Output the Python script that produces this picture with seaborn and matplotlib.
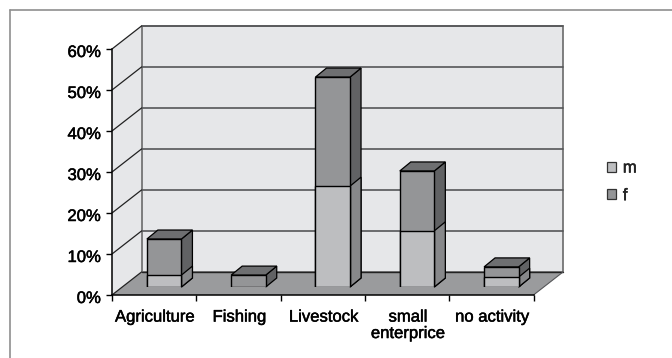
import matplotlib
matplotlib.use("Agg")
import matplotlib.pyplot as plt
import matplotlib.patheffects as pe
from matplotlib.lines import Line2D
from matplotlib.patches import Polygon, Patch
from matplotlib.transforms import ScaledTranslation
import pandas as pd
import seaborn as sns

categories = ["Agriculture", "Fishing", "Livestock", "small\nenterprice", "no activity"]
male = [2.9, 0.0, 24.6, 13.7, 2.4]
female = [8.8, 2.9, 26.6, 14.6, 2.5]
y_ticks = [0, 10, 20, 30, 40, 50, 60]

WIDTH, HEIGHT = 672, 358
LIGHT, MID = "#bdbec0", "#949597"
LIGHT_SIDE, MID_SIDE = "#87888a", "#616264"
MID_TOP = "#6e6f71"
FONT_SIZE = 12.0
# A hairline outline gives the regular face a medium weight
MEDIUM = [pe.withStroke(linewidth=0.35, foreground="black")]

sns.set_theme(style="white")
plt.rcParams["font.family"] = ["Liberation Sans", "DejaVu Sans"]

fig = plt.figure(figsize=(WIDTH / 100, HEIGHT / 100), dpi=100, facecolor="white")


def px_axes(left, bottom_y, right, top_y):
    """Axes placed by pixel edges, with y measured from the top of the figure."""
    return fig.add_axes([left / WIDTH, 1 - bottom_y / HEIGHT,
                         (right - left) / WIDTH, (bottom_y - top_y) / HEIGHT])


# Outer frame, open on the right and bottom edges
for xs, ys in [((9.5, 9.5), (358, 9.5)), ((9.5, 672), (9.5, 9.5))]:
    fig.add_artist(Line2D([x / WIDTH for x in xs], [1 - y / HEIGHT for y in ys],
                          color="#8f8f8f", lw=1.2))

# Front plane of the chart: category axis along the floor edge, percentages upward
front = px_axes(112, 295, 533.5, 49)
front.set_xlim(-0.5, 4.5)
front.set_ylim(0, 60)
front.patch.set_visible(False)

x_per_px = 5 / 421.5
y_per_px = 60 / 246
depth_x, depth_y = 29.5 * x_per_px, 23 * y_per_px
x0, x1 = -0.5, 4.5

# Side wall, back wall and floor
front.add_patch(Polygon([(x0, 0), (x0 + depth_x, depth_y), (x0 + depth_x, 60 + depth_y), (x0, 60)],
                        closed=True, fc="#e6e7e9", ec="none", clip_on=False, zorder=1))
front.add_patch(Polygon([(x0 + depth_x, depth_y), (x1 + depth_x, depth_y),
                         (x1 + depth_x, 60 + depth_y), (x0 + depth_x, 60 + depth_y)],
                        closed=True, fc="#e6e7e9", ec="#6a6a6a", lw=1.2, clip_on=False, zorder=1))
front.add_patch(Polygon([(x0, 0), (x1, 0), (x1 + depth_x, depth_y), (x0 + depth_x, depth_y)],
                        closed=True, fc="#9a9b9d", ec="none", clip_on=False, zorder=2))

# Gridlines run across the back wall and down the side wall
for tick in y_ticks[1:]:
    front.plot([x0 + depth_x, x1 + depth_x], [tick + depth_y] * 2,
               color="#555658", lw=1.2, clip_on=False, zorder=1.5)
for tick in y_ticks:
    front.plot([x0, x0 + depth_x], [tick, tick + depth_y],
               color="#222222", lw=0.9, clip_on=False, zorder=2.5)
front.plot([x0 + depth_x, x1 + depth_x], [depth_y, depth_y], color="#222222", lw=1, clip_on=False, zorder=2.5)
front.plot([x1, x1 + depth_x], [0, depth_y], color="#555658", lw=0.8, clip_on=False, zorder=2.5)

sns.despine(ax=front, top=True, right=True)
for side in ("left", "bottom"):
    front.spines[side].set_color("black")
    front.spines[side].set_linewidth(1.1)
    front.spines[side].set_zorder(3)
front.set_xticks([x - 0.5 for x in range(6)])
front.set_xticklabels([])
front.set_yticks(y_ticks)
front.set_yticklabels([f"{t}%" for t in y_ticks], fontsize=FONT_SIZE, color="black")
front.tick_params(axis="both", length=4, width=1, color="black", left=True, bottom=True)
front.tick_params(axis="y", pad=4)
nudge = ScaledTranslation(0, -2 / 100, fig.dpi_scale_trans)
for tick_label in front.get_yticklabels():
    tick_label.set_transform(tick_label.get_transform() + nudge)
    tick_label.set_path_effects(MEDIUM)
for i, label in enumerate(categories):
    front.annotate(label, xy=(i, 0), xycoords="data", xytext=(0.7, -10.5), textcoords="offset points",
                   ha="center", va="top", fontsize=FONT_SIZE, linespacing=1.12, color="black",
                   annotation_clip=False, path_effects=MEDIUM)

# Stacked columns stand a little way back from the front edge of the floor
bars = px_axes(122, 287, 543.5, 41)
bars.patch.set_visible(False)
bars.set_zorder(5)
totals = [m + f for m, f in zip(male, female)]
frame = pd.DataFrame({"category": categories, "m": male, "total": totals})
sns.barplot(data=frame, x="category", y="total", color=MID, saturation=1, width=0.41,
            edgecolor="black", linewidth=1.0, ax=bars, zorder=3)
n_total = len(bars.patches)
frame_m = frame.assign(m=frame["m"].where(frame["m"] > 0))
sns.barplot(data=frame_m, x="category", y="m", color=LIGHT, saturation=1, width=0.41,
            edgecolor="black", linewidth=1.0, ax=bars, zorder=3)
bars.set_xlim(-0.5, 4.5)
bars.set_ylim(0, 60)
bars.axis("off")

bar_dx, bar_dy = 11 * x_per_px, 9 * y_per_px


def extrude(patch, side, top=None):
    """Draw the receding right side (and optionally the top) of a column segment."""
    xa, w = patch.get_x(), patch.get_width()
    ya, h = patch.get_y(), patch.get_height()
    xb, yb = xa + w, ya + h
    bars.add_patch(Polygon([(xb, ya), (xb + bar_dx, ya + bar_dy), (xb + bar_dx, yb + bar_dy), (xb, yb)],
                           closed=True, fc=side, ec="black", lw=0.9, clip_on=False, zorder=2))
    if top:
        bars.add_patch(Polygon([(xa, yb), (xb, yb), (xb + bar_dx, yb + bar_dy), (xa + bar_dx, yb + bar_dy)],
                               closed=True, fc=top, ec="black", lw=0.9, clip_on=False, zorder=2))


all_patches = list(bars.patches)
for p in all_patches[:n_total]:
    extrude(p, MID_SIDE, MID_TOP)
for p in all_patches[n_total:n_total + len(categories)]:
    if p.get_height() > 0:
        extrude(p, LIGHT_SIDE)

# Legend keys for the two series
handles = [Patch(fc=LIGHT, ec="#333333", lw=0.9, label="m"), Patch(fc=MID, ec="#333333", lw=0.9, label="f")]
legend = fig.legend(handles=handles, loc="upper left", bbox_to_anchor=(607 / WIDTH, 1 - 160.5 / HEIGHT),
                    frameon=False, fontsize=FONT_SIZE, handlelength=0.55, handleheight=0.55,
                    handletextpad=0.4, labelspacing=0.76, borderpad=0, borderaxespad=0)
for text in legend.get_texts():
    text.set_path_effects(MEDIUM)

fig.savefig("out.png", dpi=100)
